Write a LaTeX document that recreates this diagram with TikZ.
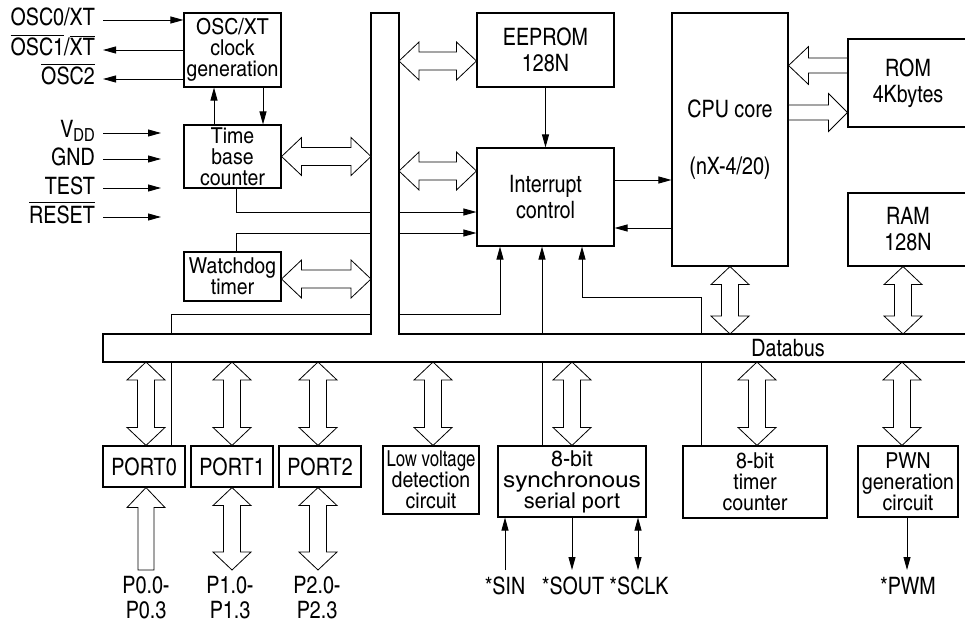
\documentclass[tikz,border=0pt]{standalone}
\usepackage{fontspec}
\setmainfont{texgyreheroscn}[Extension=.otf,UprightFont=*-regular,BoldFont=*-bold,ItalicFont=*-italic,BoldItalicFont=*-bolditalic]
\newfontfamily\boxfont{texgyreheroscn}[Extension=.otf,UprightFont=*-regular,FakeStretch=1.08]
\usepackage{graphicx}
\usetikzlibrary{arrows.meta,calc}
\newcommand{\olin}[1]{\vbox{\hrule height 1pt\kern 2pt\hbox{#1}}}
% fat arrows
\newcommand{\dblV}[2]{\draw[fat] let \p1=#1, \p2=#2 in
 (\x1,\y1) -- (\x1+19pt,\y1-18pt) -- (\x1+8.5pt,\y1-18pt) -- (\x1+8.5pt,\y2+18pt) -- (\x1+19pt,\y2+18pt) -- (\x1,\y2) -- (\x1-19pt,\y2+18pt) -- (\x1-8.5pt,\y2+18pt) -- (\x1-8.5pt,\y1-18pt) -- (\x1-19pt,\y1-18pt) -- cycle;}
\newcommand{\dblH}[2]{\draw[fat] let \p1=#1, \p2=#2 in
 (\x1,\y1) -- (\x1+20pt,\y1+19pt) -- (\x1+20pt,\y1+9pt) -- (\x2-20pt,\y1+9pt) -- (\x2-20pt,\y1+19pt) -- (\x2,\y1) -- (\x2-20pt,\y1-19pt) -- (\x2-20pt,\y1-9pt) -- (\x1+20pt,\y1-9pt) -- (\x1+20pt,\y1-19pt) -- cycle;}
\newcommand{\fatL}[2]{\draw[fat] let \p1=#1, \p2=#2 in
 (\x1,\y1) -- (\x1+20pt,\y1+19pt) -- (\x1+20pt,\y1+7.5pt) -- (\x2,\y1+7.5pt) -- (\x2,\y1-7.5pt) -- (\x1+20pt,\y1-7.5pt) -- (\x1+20pt,\y1-19pt) -- cycle;}
\newcommand{\fatR}[2]{\draw[fat] let \p1=#1, \p2=#2 in
 (\x2,\y1) -- (\x2-19pt,\y1+19pt) -- (\x2-19pt,\y1+7.5pt) -- (\x1,\y1+7.5pt) -- (\x1,\y1-7.5pt) -- (\x2-19pt,\y1-7.5pt) -- (\x2-19pt,\y1-19pt) -- cycle;}
\newcommand{\fatU}[2]{\draw[fat] let \p1=#1, \p2=#2 in
 (\x1,\y1) -- (\x1+19pt,\y1-20pt) -- (\x1+8pt,\y1-20pt) -- (\x1+8pt,\y2) -- (\x1-8pt,\y2) -- (\x1-8pt,\y1-20pt) -- (\x1-19pt,\y1-20pt) -- cycle;}
\begin{document}
\begin{tikzpicture}[x=1pt,y=-1pt,
  blk/.style={draw, line width=1.1pt, align=center, inner sep=0pt, font=\boxfont\fontsize{22}{21}\selectfont},
  blkw/.style={blk, font=\fontsize{24}{26}\selectfont},
  lbl/.style={inner sep=0pt, font=\fontsize{24}{25}\selectfont},
  fat/.style={draw, fill=white, line width=0.8pt, line join=miter},
  ln/.style={draw, line width=0.9pt},
  arr/.style={draw, line width=0.9pt, -{Triangle[length=13pt,width=7pt]}},
  darr/.style={draw, line width=0.9pt, {Triangle[length=13pt,width=7pt]}-{Triangle[length=13pt,width=7pt]}},
  busline/.style={draw, line width=1.1pt}]
\useasboundingbox (0,0) rectangle (965,623);
\clip (0,0) rectangle (965,623);

% helper coordinates
\coordinate (busL) at (371,13);
\coordinate (busR) at (399,13);
\coordinate (dbT) at (103,334);
\coordinate (dbB) at (103,362);
\coordinate (pinY) at (0,570);
\coordinate (yA) at (0,212);
\coordinate (yB) at (0,233);
\coordinate (yC) at (0,314);
\coordinate (yD) at (0,297);

% bus outline
\draw[busline] (980,334) -- (busR |- dbT) -- (busR) -- (busL) -- (busL |- dbT) -- (dbT) -- (dbB) -- (980,362);
\node[lbl] (dbl) at (788,348) {Databus};

% blocks
\node[blk, minimum width=97pt, minimum height=74pt] (osc) at (232.5,50) {OSC/XT\\clock\\generation};
\node[blk, minimum width=97pt, minimum height=63pt] (tbc) at (232.5,156.5) {Time\\base\\counter};
\node[blk, minimum width=97pt, minimum height=49pt] (wdt) at (232.5,276.5) {Watchdog\\timer};
\node[blkw, minimum width=137pt, minimum height=74pt] (eeprom) at (545.5,50) {EEPROM\\128N};
\node[blkw, minimum width=137pt, minimum height=98pt] (intc) at (545.5,197) {Interrupt\\control};
\node[blkw, minimum width=116pt, minimum height=253pt] (cpu) at (730,139.5) {CPU core\\[31pt](nX-4/20)};
\node[blkw, minimum width=120pt, minimum height=88pt] (rom) at (908,83) {ROM\\4Kbytes};
\node[blkw, minimum width=120pt, minimum height=73pt] (ram) at (908,229.5) {RAM\\128N};
\node[blkw, minimum width=82pt, minimum height=41pt] (port0) at (144,466.5) {PORT0};
\node[blkw, minimum width=82pt, minimum height=41pt] (port1) at (232,466.5) {PORT1};
\node[blkw, minimum width=82pt, minimum height=41pt] (port2) at (320,466.5) {PORT2};
\node[blk, minimum width=96pt, minimum height=68pt] (lvd) at (431,480) {\scalebox{0.86}[1]{Low voltage}\\detection\\circuit};
\node[blk, minimum width=148pt, minimum height=71pt] (ssp) at (572,481.5) {\scalebox{1.1}[1]{8-bit}\\\scalebox{1.25}[1]{synchronous}\\\scalebox{1.12}[1]{serial port}};
\node[blk, minimum width=144pt, minimum height=72pt] (tmr) at (755,482) {8-bit\\timer\\counter};
\node[blk, minimum width=100pt, minimum height=71pt] (pwn) at (908,481.5) {PWN\\generation\\circuit};

% left pin labels
\node[lbl, anchor=base east] (lo0) at (95,26) {OSC0/XT};
\node[lbl, anchor=base east] (lo1) at (95,56) {\olin{OSC1}/\olin{XT}};
\node[lbl, anchor=base east] (lo2) at (95,85) {\olin{OSC2}};
\node[lbl, anchor=base east] (lvdd) at (95,137) {V\raisebox{-4pt}{\fontsize{18}{18}\selectfont DD}};
\node[lbl, anchor=base east] (lgnd) at (95,165) {GND};
\node[lbl, anchor=base east] (ltest) at (95,194) {TEST};
\node[lbl, anchor=base east] (lrst) at (95,223) {\olin{RESET}};
\coordinate (a0) at (103,20);
\coordinate (a1) at (103,50);
\coordinate (a2) at (103,79);
\coordinate (v0) at (103,133);
\coordinate (v0e) at (161,133);
\coordinate (v1) at (103,159);
\coordinate (v1e) at (161,159);
\coordinate (v2) at (103,188);
\coordinate (v2e) at (161,188);
\coordinate (v3) at (103,217);
\coordinate (v3e) at (161,217);
\draw[arr] (a0) -- (osc.west |- a0);
\draw[arr] (osc.west |- a1) -- (a1);
\draw[arr] (osc.west |- a2) -- (a2);
\draw[arr] (v0) -- (v0e);
\draw[arr] (v1) -- (v1e);
\draw[arr] (v2) -- (v2e);
\draw[arr] (v3) -- (v3e);

% osc <-> time base
\draw[arr] ([xshift=-18.5pt]tbc.north) -- ([xshift=-18.5pt]osc.south);
\draw[arr] ([xshift=30.5pt]osc.south) -- ([xshift=30.5pt]tbc.north);

% signal lines to interrupt control
\coordinate (tx0) at ([xshift=3.5pt]tbc.south);
\draw[ln] (tx0) |- (busL |- yA);
\draw[arr] (busR |- yA) -- (intc.west |- yA);
\coordinate (wx0) at ([xshift=3.5pt]wdt.north);
\draw[ln] (busL |- yB) -| (wx0);
\draw[arr] (busR |- yB) -- (intc.west |- yB);
\coordinate (p0x) at ([xshift=27pt]port0.north);
\draw[ln] (p0x) -- (p0x |- dbB);
\draw[ln] (p0x |- dbT) |- (busL |- yC);
\coordinate (ix1) at ([xshift=-45.5pt]intc.south);
\draw[arr] (busR |- yC) -| (ix1);
\coordinate (sx) at ([xshift=-30pt]ssp.north);
\draw[ln] (sx) -- (sx |- dbB);
\draw[arr] (sx |- dbT) -- (sx |- intc.south);
\coordinate (tx) at ([xshift=-54pt]tmr.north);
\coordinate (ix3) at ([xshift=36.5pt]intc.south);
\draw[ln] (tx) -- (tx |- dbB);
\draw[arr] (tx |- dbT) |- (ix3 |- yD) -- (ix3);
\draw[arr] (eeprom.south) -- (intc.north);
\coordinate (ic1) at ([yshift=17pt]intc.east);
\coordinate (ic2) at ([yshift=-31pt]intc.east);
\draw[arr] (ic1) -- (cpu.west |- ic1);
\draw[arr] (cpu.west |- ic2) -- (ic2);

% fat arrows
\dblH{(tbc.east)}{(busL |- tbc.east)}
\coordinate (wA) at ([yshift=-2.5pt]wdt.east);
\dblH{(wA)}{(busL |- wA)}
\coordinate (eA) at ([yshift=-11pt]eeprom.west);
\dblH{(busR |- eA)}{(eA)}
\coordinate (iA) at ([yshift=26pt]intc.west);
\dblH{(busR |- iA)}{(iA)}
\coordinate (rA) at ([yshift=17.5pt]rom.west);
\fatL{(cpu.east |- rA)}{(rA)}
\coordinate (rB) at ([yshift=-29.5pt]rom.west);
\fatR{(cpu.east |- rB)}{(rB)}
\dblV{(cpu.south)}{(cpu.south |- dbT)}
\coordinate (mA) at ([xshift=-5pt]ram.south);
\dblV{(mA)}{(mA |- dbT)}
\coordinate (q0) at ([xshift=2pt]port0.north);
\dblV{(q0 |- dbB)}{(q0)}
\dblV{(port1.north |- dbB)}{(port1.north)}
\coordinate (q2) at ([xshift=-2pt]port2.north);
\dblV{(q2 |- dbB)}{(q2)}
\coordinate (q3) at ([xshift=2pt]lvd.north);
\dblV{(q3 |- dbB)}{(q3)}
\dblV{(ssp.north |- dbB)}{(ssp.north)}
\coordinate (q5) at ([xshift=2pt]tmr.north);
\dblV{(q5 |- dbB)}{(q5)}
\coordinate (pA) at ([xshift=-6pt]pwn.north);
\dblV{(pA |- dbB)}{(pA)}
\coordinate (b0) at ([xshift=2pt]port0.south);
\fatU{(b0)}{(b0 |- pinY)}
\dblV{(port1.south)}{(port1.south |- pinY)}
\coordinate (b2) at ([xshift=-2pt]port2.south);
\dblV{(b2)}{(b2 |- pinY)}

% port labels
\node[lbl, align=center] (pl0) at (146,598) {P0.0-\\P0.3};
\node[lbl, align=center] (pl1) at (230,598) {P1.0-\\P1.3};
\node[lbl, align=center] (pl2) at (317,598) {P2.0-\\P2.3};

% serial and pwm pins
\coordinate (sinx) at ([xshift=-67pt]ssp.south);
\coordinate (sclx) at ([xshift=66pt]ssp.south);
\draw[arr] (sinx |- pinY) -- (sinx);
\draw[arr] (ssp.south) -- (ssp.south |- pinY);
\draw[darr] (sclx) -- (sclx |- pinY);
\coordinate (pwx) at ([xshift=-1pt]pwn.south);
\draw[arr] (pwx) -- (pwx |- pinY);
\node[lbl] (lsin) at (505,586) {*SIN};
\node[lbl] (lsout) at (573,586) {*SOUT};
\node[lbl] (lsclk) at (639,586) {*SCLK};
\node[lbl] (lpwm) at (908,586) {*PWM};
\end{tikzpicture}
\end{document}
